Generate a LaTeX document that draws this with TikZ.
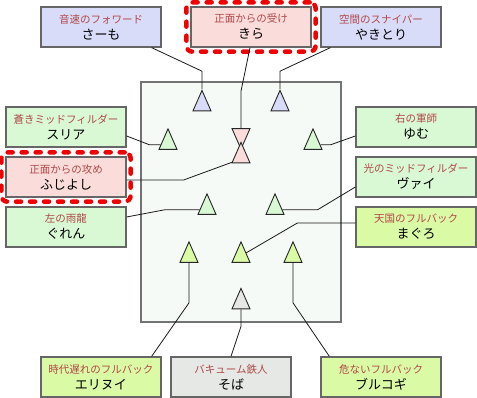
\documentclass[tikz,border=0pt]{standalone}
\usepackage{fontspec}
\setmainfont{Noto Sans CJK JP}
\usetikzlibrary{shapes.geometric,fit}

\definecolor{fwblue}{HTML}{D9DCF8}
\definecolor{cbpink}{HTML}{FADCDA}
\definecolor{mfgreen}{HTML}{D9F9D5}
\definecolor{fbyellow}{HTML}{DAFAA6}
\definecolor{gkgray}{HTML}{E5E8E5}
\definecolor{pitchfill}{HTML}{F6FAF6}
\definecolor{boxline}{HTML}{666666}
\definecolor{rolered}{HTML}{B04848}
\newcommand{\rolelabel}[1]{{\color{rolered}\fontsize{10.5}{12}\selectfont #1}}

\begin{document}
\begin{tikzpicture}[x=1pt, y=-1pt,
  player/.style={draw=boxline, line width=1.3pt, minimum width=120pt, minimum height=40pt,
    inner sep=0pt, align=center, font=\fontsize{13}{15}\selectfont},
  tri/.style={isosceles triangle, isosceles triangle stretches, shape border rotate=90,
    minimum width=18pt, minimum height=20.5pt, inner sep=0pt, draw=black!85, line width=0.9pt},
  link/.style={black!90, line width=0.8pt},
  hilite/.style={draw=red!95!black, line width=4.5pt, rounded corners=6pt, line cap=round,
    dash pattern=on 5pt off 9pt, inner sep=4pt}]
\useasboundingbox (0,0) rectangle (477,398);

% Pitch
\draw[draw=black!55, fill=pitchfill, line width=1.5pt] (141,82) rectangle (341,322);

% Player boxes
\node[player, fill=fwblue] (samo) at (101,27) {\rolelabel{音速のフォワード}\\[1pt]さーも};
\node[player, fill=cbpink] (kira) at (251,27) {\rolelabel{正面からの受け}\\[1pt]きら};
\node[player, fill=fwblue] (yakitori) at (381,27) {\rolelabel{空間のスナイパー}\\[1pt]やきとり};
\node[player, fill=mfgreen] (suria) at (66,127) {\rolelabel{蒼きミッドフィルダー}\\[1pt]スリア};
\node[player, fill=mfgreen] (yumu) at (416,127) {\rolelabel{右の軍師}\\[1pt]ゆむ};
\node[player, fill=cbpink] (fujiyoshi) at (66,177) {\rolelabel{正面からの攻め}\\[1pt]ふじよし};
\node[player, fill=mfgreen] (vai) at (416,177) {\rolelabel{光のミッドフィルダー}\\[1pt]ヴァイ};
\node[player, fill=mfgreen] (guren) at (66,227) {\rolelabel{左の雨龍}\\[1pt]ぐれん};
\node[player, fill=fbyellow] (maguro) at (416,227) {\rolelabel{天国のフルバック}\\[1pt]まぐろ};
\node[player, fill=fbyellow] (erinui) at (101,377) {\rolelabel{時代遅れのフルバック}\\[1pt]エリヌイ};
\node[player, fill=gkgray] (soba) at (231,377) {\rolelabel{バキューム鉄人}\\[1pt]そば};
\node[player, fill=fbyellow] (bulkogi) at (381,377) {\rolelabel{危ないフルバック}\\[1pt]ブルコギ};

% Highlights
\node[hilite, fit=(kira)] (kiraMark) {};
\node[hilite, fit=(fujiyoshi)] (fujiyoshiMark) {};

% Positions on the pitch
\node[tri, fill=fwblue] (tFWl) at (202,105) {};
\node[tri, fill=fwblue] (tFWr) at (280,105) {};
\node[tri, fill=cbpink, shape border rotate=270] (tRcv) at (241,134.5) {};
\node[tri, fill=cbpink] (tAtk) at (241,157) {};
\node[tri, fill=mfgreen] (tMFl) at (168,143.5) {};
\node[tri, fill=mfgreen] (tMFr) at (313,143.5) {};
\node[tri, fill=mfgreen] (tDl) at (207,208.5) {};
\node[tri, fill=mfgreen] (tDr) at (275,208.5) {};
\node[tri, fill=fbyellow] (tFBl) at (189,256.5) {};
\node[tri, fill=fbyellow] (tFBc) at (241,256.5) {};
\node[tri, fill=fbyellow] (tFBr) at (293,256.5) {};
\node[tri, fill=gkgray] (tGK) at (241,303) {};

% Connectors
\draw[link] ([xshift=-10pt]samo.south east) -- ([yshift=18pt]tFWl.apex) -- (tFWl.apex);
\draw[link] ([xshift=-1pt]kira.south) -- ([yshift=37pt]tRcv.90) -- (tRcv.90);
\draw[link] ([xshift=10pt]yakitori.south west) -- ([yshift=18pt]tFWr.apex) -- (tFWr.apex);
\draw[link] ([yshift=-9pt]suria.east) -- ([xshift=-11pt]tMFl.190) -- (tMFl.190);
\draw[link] ([yshift=-9pt]yumu.west) -- ([xshift=10pt]tMFr.350) -- (tMFr.350);
\draw[link] ([yshift=-3pt]fujiyoshi.east) -- ++(57,0) -- (tAtk.210);
\draw[link] ([yshift=10pt]guren.east) -- ([xshift=-35pt]tDl.190) -- (tDl.190);
\draw[link] ([yshift=-10pt]vai.west) -- ([xshift=35pt]tDr.350) -- (tDr.350);
\draw[link] ([yshift=4pt]maguro.west) -- ++(-58,0) -- (tFBc.35);
\draw[link] ([xshift=-10pt]erinui.north east) -- ([yshift=-40pt]tFBl.270) -- (tFBl.270);
\draw[link] (soba.north) -- ([yshift=-17pt]tGK.270) -- (tGK.270);
\draw[link] ([xshift=9pt]bulkogi.north west) -- ([yshift=-40pt]tFBr.270) -- (tFBr.270);
\end{tikzpicture}
\end{document}
